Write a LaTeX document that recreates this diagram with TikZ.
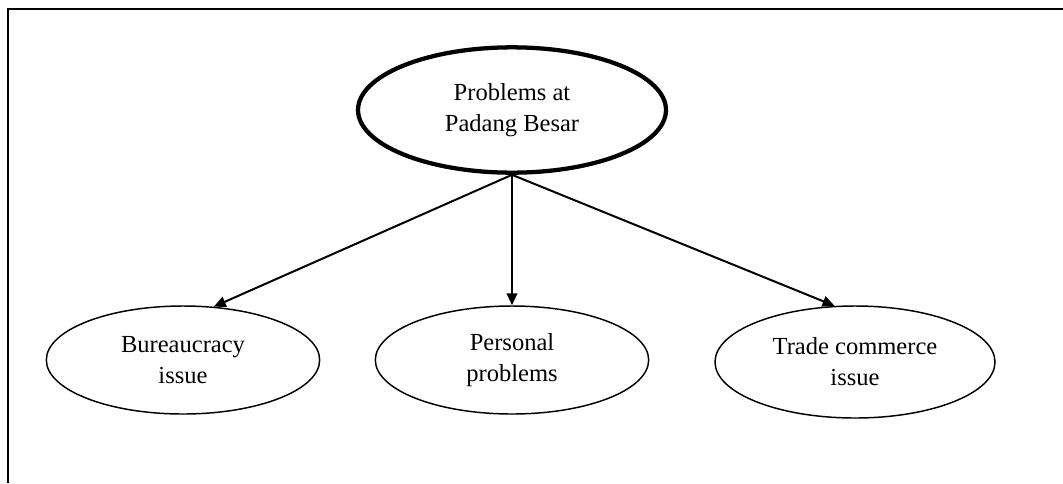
\documentclass[tikz,border=0pt]{standalone}
\usepackage{fontspec}
\setmainfont{Liberation Serif}
\usetikzlibrary{shapes.geometric,arrows.meta}
\begin{document}
\begin{tikzpicture}[x=0.75pt,y=-0.75pt,
  every node/.style={font=\fontsize{18.4}{23.3}\selectfont, align=center, inner sep=0pt},
  mainbox/.style={ellipse, draw, line width=3.2pt, minimum width=231pt, minimum height=94pt},
  subbox/.style={ellipse, draw, line width=1.1pt, minimum width=205pt, minimum height=81pt},
  arr/.style={line width=1.5pt, -{Triangle[length=9pt,width=8pt]}},
  frameline/.style={line width=1.1pt}]
\useasboundingbox (0,0) rectangle (1063,483);
% open frame: left and top edges only
\draw[frameline] (8,483) -- (8,9) -- (1063,9);
% central topic and its three branches
\node[mainbox] (top) at (512,110) {Problems at\\Padang Besar};
\node[subbox] (bur) at (183,360) {Bureaucracy\\issue};
\node[subbox] (per) at (512,360) {Personal\\problems};
\node[subbox, minimum width=210pt, minimum height=84pt] (trd) at (855,362) {Trade commerce\\issue};
\draw[arr] (top.south) -- (bur.60);
\draw[arr] (top.south) -- (per.north);
\draw[arr] (top.south) -- (trd.110);
\end{tikzpicture}
\end{document}
